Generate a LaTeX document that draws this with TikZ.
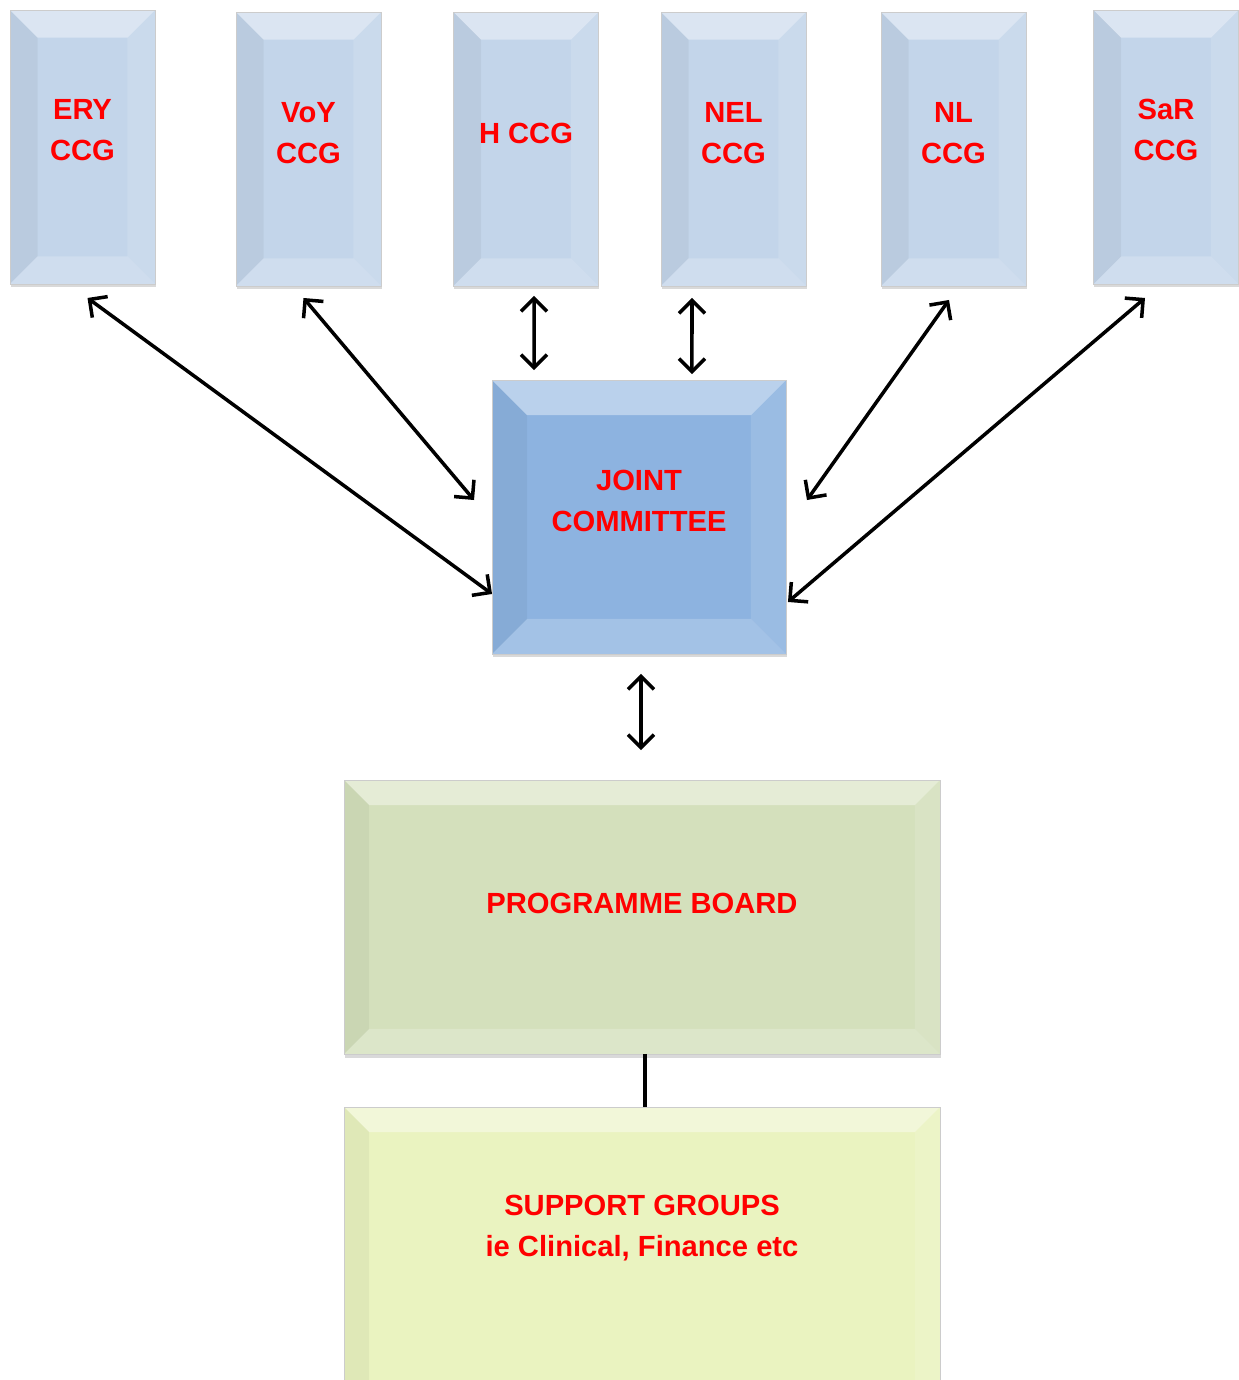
\documentclass[tikz,border=0pt]{standalone}
\usepackage{fontspec}
\setmainfont{Liberation Sans}
\usetikzlibrary{arrows.meta,calc,shadows}

\definecolor{ccgblue}{HTML}{C3D5EA}
\definecolor{jcblue}{HTML}{8DB3E0}
\definecolor{pbgreen}{HTML}{D4E0BC}
\definecolor{sgyellow}{HTML}{EAF3C0}

\begin{document}
\begin{tikzpicture}[
    x=0.02cm, y=-0.02cm,
    % bevelled box faces, #1 = depth of the bevel
    bevel/.style={path picture={
        \coordinate (bnw) at (path picture bounding box.north west);
        \coordinate (bse) at (path picture bounding box.south east);
        \coordinate (bne) at (bnw -| bse);
        \coordinate (bsw) at (bnw |- bse);
        \fill[white, opacity=.4] (bnw) -- (bne) -- ($(bne)+(-#1,-#1)$)
            -- ($(bnw)+(#1,-#1)$) -- cycle;
        \fill[black, opacity=.045] (bnw) -- ($(bnw)+(#1,-#1)$)
            -- ($(bsw)+(#1,#1)$) -- (bsw) -- cycle;
        \fill[white, opacity=.12] (bne) -- (bse) -- ($(bse)+(-#1,#1)$)
            -- ($(bne)+(-#1,-#1)$) -- cycle;
        \fill[white, opacity=.2] (bsw) -- ($(bsw)+(#1,#1)$)
            -- ($(bse)+(-#1,#1)$) -- (bse) -- cycle;
    }},
    box/.style={draw=black!20, line width=.5pt, inner sep=0pt, outer sep=0pt,
                drop shadow={shadow xshift=.5pt, shadow yshift=-2pt, opacity=.3}},
    ccg/.style={box, fill=ccgblue, bevel=0.55cm, minimum width=2.9cm, minimum height=5.48cm},
    wide/.style={box, bevel=0.5cm, minimum width=11.92cm},
    txt/.style={text=red, align=center, font=\bfseries\fontsize{16.6}{23}\selectfont},
    arr/.style={{Straight Barb[length=2.6mm,width=5.2mm]}-{Straight Barb[length=2.6mm,width=5.2mm]},
                line width=2pt}
]
\useasboundingbox (0,0) rectangle (1239,1380);

% Top row: the six CCGs
\node[ccg] (ery) at (82.5,147) {};
\node[ccg] (voy) at (308.5,149) {};
\node[ccg] (hull) at (526,149) {};
\node[ccg] (nel) at (733.5,149) {};
\node[ccg] (nl) at (953.5,149) {};
\node[ccg] (sar) at (1166,147) {};
\node[txt] (ery-t) at ($(ery)+(0,-17)$) {ERY\\CCG};
\node[txt] (voy-t) at ($(voy)+(0,-16)$) {VoY\\CCG};
\node[txt] (hull-t) at ($(hull)+(0,-16)$) {H CCG};
\node[txt] (nel-t) at ($(nel)+(0,-16)$) {NEL\\CCG};
\node[txt] (nl-t) at ($(nl)+(0,-16)$) {NL\\CCG};
\node[txt] (sar-t) at ($(sar)+(0,-17)$) {SaR\\CCG};

% Middle: joint committee
\node[box, fill=jcblue, bevel=0.7cm, minimum width=5.88cm, minimum height=5.48cm] (jc) at (639,517) {};
\node[txt] (jc-t) at ($(jc)+(0,-16)$) {JOINT\\COMMITTEE};

% Bottom: programme board and support groups (the latter runs off the page)
\node[wide, fill=pbgreen, minimum height=5.48cm] (pb) at (642,917) {};
\node[txt] (pb-t) at ($(pb)+(0,-14)$) {PROGRAMME BOARD};
\node[wide, fill=sgyellow, minimum height=6.6cm] (sg) at (642,1272) {};
\node[txt] (sg-t) at (642,1228) {SUPPORT GROUPS\\ie Clinical, Finance etc};

% Arrows
\draw[arr] ($(ery.south)+(5,14)$) -- ($(jc.south west)+(0,-60)$);
\draw[arr] ($(voy.south)+(-5,12)$) -- ($(jc.west)+(-18,-17)$);
\draw[arr] ($(hull.south)+(8,10)$) -- ($(jc.north west)+(42,-10)$);
\draw[arr] ($(nel.south)+(-41.5,12)$) -- ($(jc.north east)+(-94,-6)$);
\draw[arr] ($(nl.south)+(-4.5,14)$) -- ($(jc.east)+(21,-17)$);
\draw[arr] ($(sar.south)+(-21,14)$) -- ($(jc.south east)+(2,-52)$);
\draw[arr] ($(jc.south)+(2,20)$) -- ($(pb.north)+(-1,-30)$);
\draw[line width=2.2pt] ($(pb.south)+(3,0)$) -- ($(sg.north)+(3,0)$);
\end{tikzpicture}
\end{document}
